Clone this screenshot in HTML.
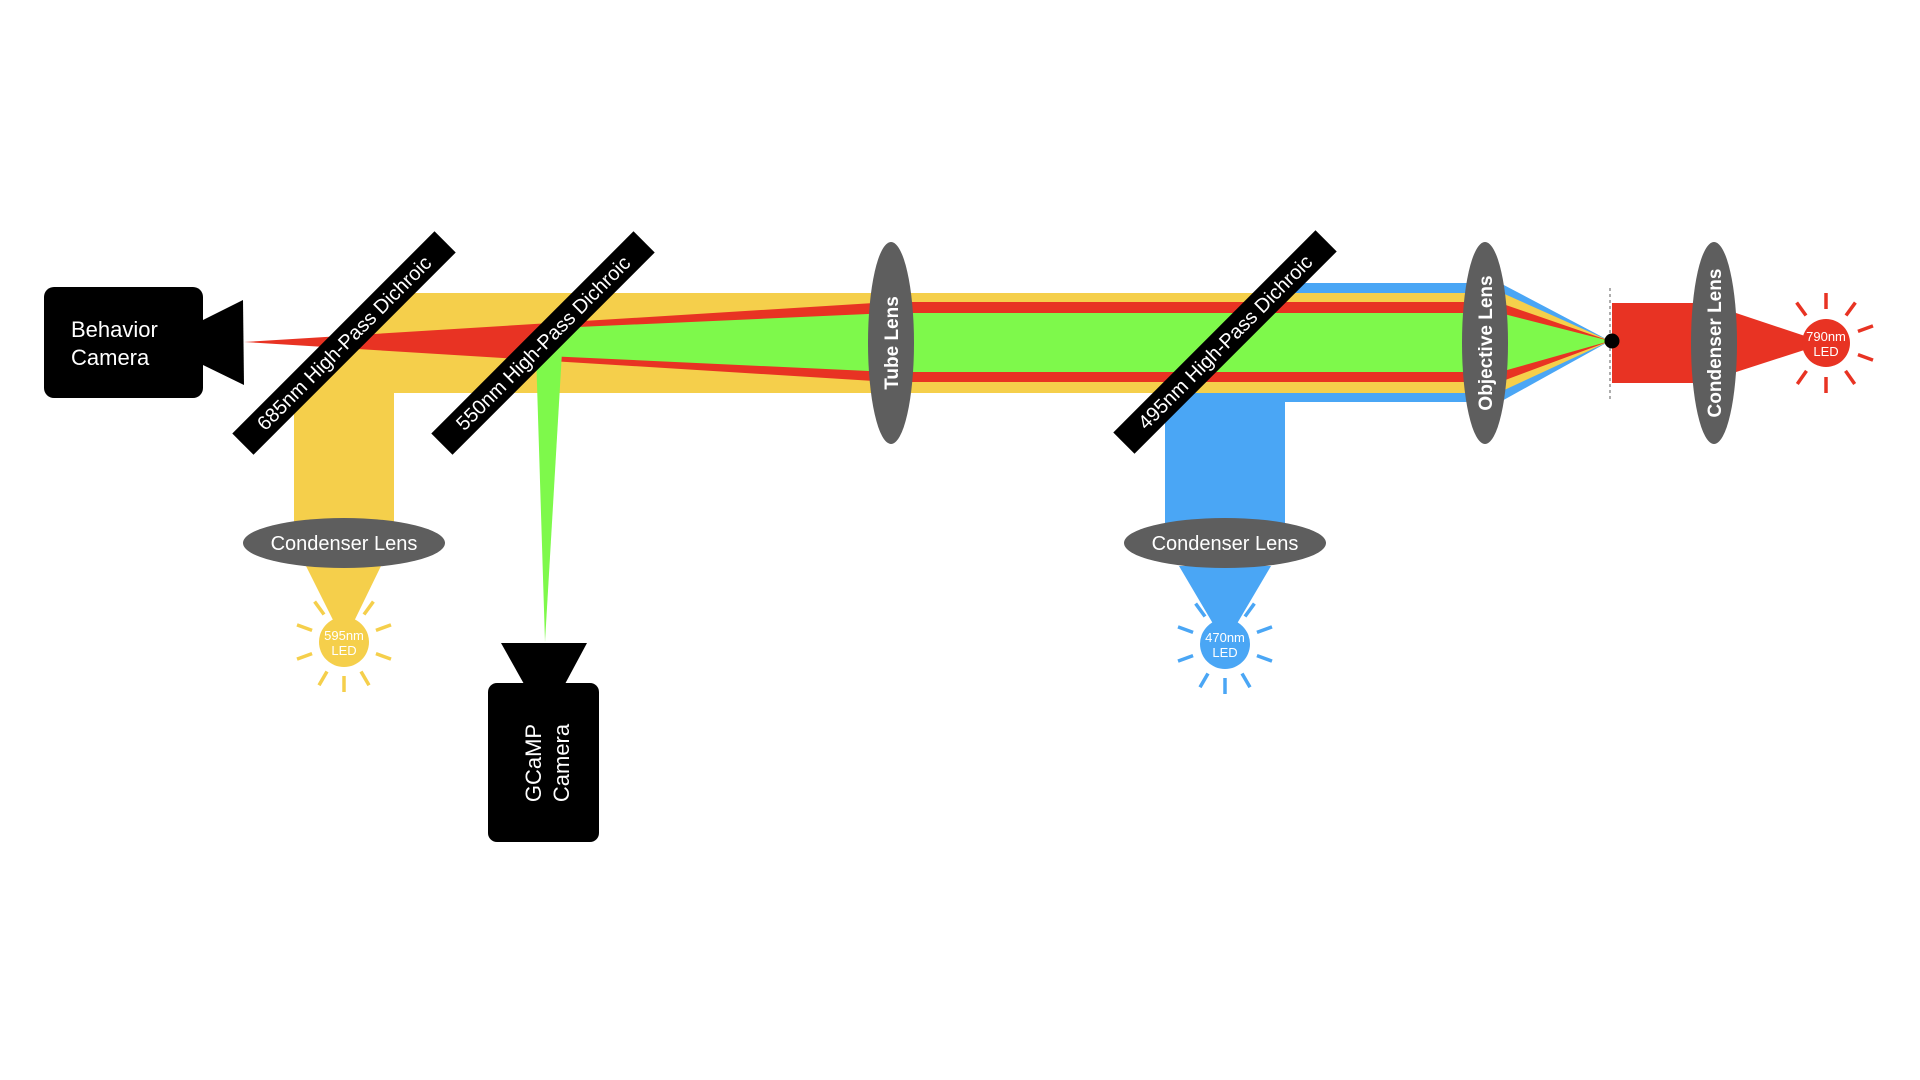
<!DOCTYPE html>
<html><head><meta charset="utf-8"><style>
html,body{margin:0;padding:0;background:#fff;width:1920px;height:1080px;overflow:hidden}
svg{display:block}
text{font-family:"Liberation Sans",Arial,sans-serif;fill:#fff}
</style></head><body>
<svg width="1920" height="1080" viewBox="0 0 1920 1080">
<defs>
<clipPath id="c685"><polygon points="687,0 1920,0 1920,1080 -393,1080"/></clipPath>
<clipPath id="c550"><polygon points="886,0 1920,0 1920,1080 -194,1080"/></clipPath>
<clipPath id="c495"><polygon points="1567,0 1920,0 1920,1080 487,1080"/></clipPath>
</defs>

<g clip-path="url(#c685)">
<rect x="200" y="293" width="1285" height="100" fill="#F5CF4B"/>
<rect x="294" y="293" width="100" height="230" fill="#F5CF4B"/>
</g>
<g clip-path="url(#c495)">
<rect x="1100" y="283" width="385" height="119" fill="#4AA6F5"/>
<rect x="1165" y="283" width="120" height="245" fill="#4AA6F5"/>
</g>
<rect x="1100" y="293" width="385" height="100" fill="#F5CF4B"/>
<polygon points="244,342 891,302 891,382" fill="#E83323"/>
<rect x="891" y="302" width="594" height="80" fill="#E83323"/>
<g clip-path="url(#c550)"><polygon points="244,342 891,313 891,372" fill="#7EF94B"/></g>
<rect x="891" y="313" width="594" height="59" fill="#7EF94B"/>
<polygon points="536,352 562,352 545,642" fill="#7EF94B"/>

<polygon points="1500,283 1610,341 1500,402" fill="#4AA6F5"/>
<polygon points="1500,292 1610,341 1500,392" fill="#F5CF4B"/>
<polygon points="1500,303 1610,341 1500,382" fill="#E83323"/>
<polygon points="1500,313 1610,341 1500,372" fill="#7EF94B"/>

<rect x="1612" y="303" width="85" height="80" fill="#E83323"/>
<polygon points="1730,311 1826,343 1730,374" fill="#E83323"/>
<line x1="1610" y1="288" x2="1610" y2="400" stroke="#777" stroke-width="1.2" stroke-dasharray="3,3"/>
<circle cx="1612" cy="341" r="7.5" fill="#000"/>

<g>
<g stroke="#F5CF4B" stroke-width="3.5" transform="translate(344,642)">
<line x1="0" y1="-34" x2="0" y2="-50" transform="rotate(36)"/><line x1="0" y1="-34" x2="0" y2="-50" transform="rotate(-36)"/>
<line x1="0" y1="-34" x2="0" y2="-50" transform="rotate(70)"/><line x1="0" y1="-34" x2="0" y2="-50" transform="rotate(-70)"/>
<line x1="0" y1="-34" x2="0" y2="-50" transform="rotate(110)"/><line x1="0" y1="-34" x2="0" y2="-50" transform="rotate(-110)"/>
<line x1="0" y1="-34" x2="0" y2="-50" transform="rotate(150)"/><line x1="0" y1="-34" x2="0" y2="-50" transform="rotate(-150)"/>
<line x1="0" y1="-34" x2="0" y2="-50" transform="rotate(180)"/>
</g>
<polygon points="306,566 381,566 344,642" fill="#F5CF4B"/>
<circle cx="344" cy="642" r="25" fill="#F5CF4B"/>
<text x="344" y="640" font-size="13" text-anchor="middle">595nm</text>
<text x="344" y="655" font-size="13" text-anchor="middle">LED</text>
</g>
<g>
<g stroke="#4AA6F5" stroke-width="3.5" transform="translate(1225,644)">
<line x1="0" y1="-34" x2="0" y2="-50" transform="rotate(36)"/><line x1="0" y1="-34" x2="0" y2="-50" transform="rotate(-36)"/>
<line x1="0" y1="-34" x2="0" y2="-50" transform="rotate(70)"/><line x1="0" y1="-34" x2="0" y2="-50" transform="rotate(-70)"/>
<line x1="0" y1="-34" x2="0" y2="-50" transform="rotate(110)"/><line x1="0" y1="-34" x2="0" y2="-50" transform="rotate(-110)"/>
<line x1="0" y1="-34" x2="0" y2="-50" transform="rotate(150)"/><line x1="0" y1="-34" x2="0" y2="-50" transform="rotate(-150)"/>
<line x1="0" y1="-34" x2="0" y2="-50" transform="rotate(180)"/>
</g>
<polygon points="1179,566 1271,566 1225,644" fill="#4AA6F5"/>
<circle cx="1225" cy="644" r="25" fill="#4AA6F5"/>
<text x="1225" y="642" font-size="13" text-anchor="middle">470nm</text>
<text x="1225" y="657" font-size="13" text-anchor="middle">LED</text>
</g>
<g>
<g stroke="#E83323" stroke-width="3.5" transform="translate(1826,343)">
<line x1="0" y1="-34" x2="0" y2="-50"/>
<line x1="0" y1="-34" x2="0" y2="-50" transform="rotate(36)"/><line x1="0" y1="-34" x2="0" y2="-50" transform="rotate(-36)"/>
<line x1="0" y1="-34" x2="0" y2="-50" transform="rotate(70)"/>
<line x1="0" y1="-34" x2="0" y2="-50" transform="rotate(110)"/>
<line x1="0" y1="-34" x2="0" y2="-50" transform="rotate(145)"/><line x1="0" y1="-34" x2="0" y2="-50" transform="rotate(-145)"/>
<line x1="0" y1="-34" x2="0" y2="-50" transform="rotate(180)"/>
</g>
<circle cx="1826" cy="343" r="24" fill="#E83323"/>
<text x="1826" y="341" font-size="13" text-anchor="middle">790nm</text>
<text x="1826" y="356" font-size="13" text-anchor="middle">LED</text>
</g>

<g transform="translate(344,343) rotate(-45)">
<rect x="-143" y="-15" width="286" height="30" fill="#000"/>
<text x="0" y="7" font-size="20" text-anchor="middle">685nm High-Pass Dichroic</text>
</g>
<g transform="translate(543,343) rotate(-45)">
<rect x="-143" y="-15" width="286" height="30" fill="#000"/>
<text x="0" y="7" font-size="20" text-anchor="middle">550nm High-Pass Dichroic</text>
</g>
<g transform="translate(1225,342) rotate(-45)">
<rect x="-143" y="-15" width="286" height="30" fill="#000"/>
<text x="0" y="7" font-size="20" text-anchor="middle">495nm High-Pass Dichroic</text>
</g>

<g>
<ellipse cx="891" cy="343" rx="23" ry="101" fill="#5E5E5E"/>
<text transform="translate(898,343) rotate(-90)" font-size="19" font-weight="bold" text-anchor="middle">Tube Lens</text>
</g>
<g>
<ellipse cx="1485" cy="343" rx="23" ry="101" fill="#5E5E5E"/>
<text transform="translate(1492,343) rotate(-90)" font-size="19" font-weight="bold" text-anchor="middle">Objective Lens</text>
</g>
<g>
<ellipse cx="1714" cy="343" rx="23" ry="101" fill="#5E5E5E"/>
<text transform="translate(1721,343) rotate(-90)" font-size="19" font-weight="bold" text-anchor="middle">Condenser Lens</text>
</g>
<g>
<ellipse cx="344" cy="543" rx="101" ry="25" fill="#5E5E5E"/>
<text x="344" y="550" font-size="20" text-anchor="middle">Condenser Lens</text>
</g>
<g>
<ellipse cx="1225" cy="543" rx="101" ry="25" fill="#5E5E5E"/>
<text x="1225" y="550" font-size="20" text-anchor="middle">Condenser Lens</text>
</g>

<g>
<rect x="44" y="287" width="159" height="111" rx="10" fill="#000"/>
<polygon points="203,320 243,300 244,385 203,365" fill="#000"/>
<text x="71" y="337" font-size="22">Behavior</text>
<text x="71" y="365" font-size="22">Camera</text>
</g>
<g>
<polygon points="501,643 587,643 565,684 524,684" fill="#000"/>
<rect x="488" y="683" width="111" height="159" rx="9" fill="#000"/>
<text transform="translate(541,763) rotate(-90)" font-size="22" text-anchor="middle">GCaMP</text>
<text transform="translate(569,763) rotate(-90)" font-size="22" text-anchor="middle">Camera</text>
</g>
</svg>
</body></html>
